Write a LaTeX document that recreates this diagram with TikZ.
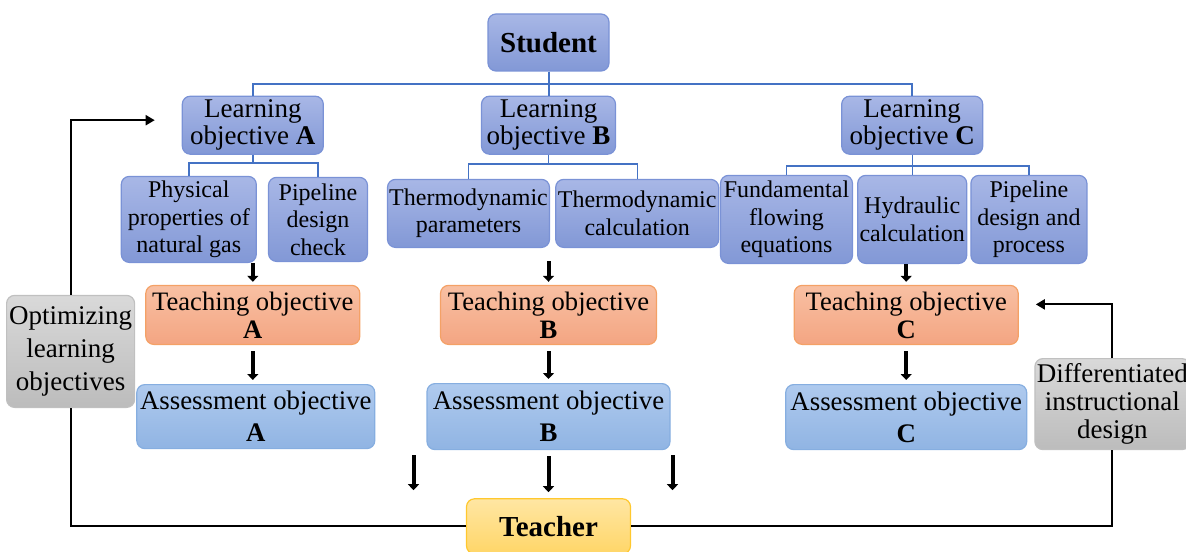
\documentclass[tikz,border=0pt]{standalone}
\usepackage{fontspec}
\setmainfont{Liberation Serif}
\usetikzlibrary{arrows.meta, positioning, shadings}
\definecolor{blueTop}{RGB}{168,183,230}
\definecolor{blueBottom}{RGB}{130,152,214}
\definecolor{blueLine}{RGB}{122,146,214}
\definecolor{orangeTop}{RGB}{248,192,163}
\definecolor{orangeBottom}{RGB}{244,165,130}
\definecolor{orangeLine}{RGB}{244,161,102}
\definecolor{skyTop}{RGB}{175,202,238}
\definecolor{skyBottom}{RGB}{144,180,227}
\definecolor{skyLine}{RGB}{134,174,224}
\definecolor{yellowTop}{RGB}{255,230,163}
\definecolor{yellowBottom}{RGB}{255,214,104}
\definecolor{yellowLine}{RGB}{255,200,46}
\definecolor{grayTop}{RGB}{217,217,217}
\definecolor{grayBottom}{RGB}{188,188,188}
\definecolor{grayLine}{RGB}{192,192,192}
\definecolor{treeBlue}{RGB}{68,114,196}

\begin{document}
\begin{tikzpicture}
	[
	node distance=12pt,
        box/.style={
            rectangle,
            rounded corners=4pt,
            line width=0.6pt,
            align=center,
            inner xsep=0.5pt,
            inner ysep=1pt
        },
        objective/.style={
            box,
            draw=blueLine,
            top color=blueTop,
            bottom color=blueBottom,
            minimum width=70.5pt,
            minimum height=29pt,
            font=\fontsize{13.5}{13.5}\selectfont
        },
        topic/.style={
            box,
            draw=blueLine,
            top color=blueTop,
            bottom color=blueBottom,
            minimum height=44pt,
            font=\fontsize{12}{13.7}\selectfont
        },
        teaching/.style={
            box,
            draw=orangeLine,
            top color=orangeTop,
            bottom color=orangeBottom,
            minimum width=108pt,
            minimum height=29.5pt,
            font=\fontsize{13.3}{14}\selectfont
        },
        assessment/.style={
            box,
            draw=skyLine,
            top color=skyTop,
            bottom color=skyBottom,
            minimum width=120.5pt,
            minimum height=32.5pt,
            font=\fontsize{13.4}{16}\selectfont
        },
        actor/.style={
            box,
            minimum height=28.5pt,
            font=\fontsize{14.5}{14.5}\selectfont\bfseries
        },
        adjust/.style={
            box,
            draw=grayLine,
            top color=grayTop,
            bottom color=grayBottom,
            font=\fontsize{13.5}{14}\selectfont
        },
        treeLine/.style={
            draw=treeBlue,
            line width=1pt
        },
        branchLine/.style={
            draw=treeBlue,
            line width=0.7pt
        },
        flowArrow/.style={
            -{Triangle[width=5.5pt,length=3pt]},
            line width=2pt
        },
        loopLine/.style={
            line width=1pt
        },
        loopArrow/.style={
            loopLine,
            -{Triangle[width=5pt,length=4.5pt]}
        }
    ]
    \useasboundingbox (0,0) rectangle (593pt,-275.5pt);

    \node(student) [actor, draw=blueLine, top color=blueTop, bottom color=blueBottom, minimum width=60.5pt] at (274.25pt,-21.25pt) {Student};

    \node(learnB) [objective, minimum width=67pt, below=12pt of student] {Learning\\objective \textbf{B}};
    \node(learnA) [objective, left=78.5pt of learnB] {Learning\\objective \textbf{A}};
    \node(learnC) [objective, right=112.5pt of learnB] {Learning\\objective \textbf{C}};

    \node(physical) [topic, minimum width=67.5pt, minimum height=43pt, below=10.5pt of learnA, xshift=-32pt] {Physical\\properties of\\natural gas};
    \node(designCheck) [topic, minimum width=49.5pt, minimum height=42pt, right=5.5pt of physical] {Pipeline\\design\\check};

    \node(thermoParam) [topic, minimum width=81pt, minimum height=34pt, below=12pt of learnB, xshift=-40pt] {Thermodynamic\\parameters};
    \node(thermoCalc) [topic, minimum width=81.5pt, minimum height=34pt, right=2.5pt of thermoParam] {Thermodynamic\\calculation};

    \node(hydraulic) [topic, minimum width=54.5pt, below=10pt of learnC] {Hydraulic\\calculation};
    \node(flowing) [topic, minimum width=66pt, left=2pt of hydraulic] {Fundamental\\flowing\\equations};
    \node(pipeProcess) [topic, minimum width=58pt, right=1.5pt of hydraulic] {Pipeline\\design and\\process};

    \node(teachA) [teaching, minimum width=107pt, below=65pt of learnA] {Teaching objective\\\textbf{A}};
    \node(teachB) [teaching, below=65pt of learnB] {Teaching objective\\\textbf{B}};
    \node(teachC) [teaching, minimum width=112pt, below=65pt of learnC, xshift=-3pt] {Teaching objective\\\textbf{C}};

    \node(assessA) [assessment, minimum width=119pt, minimum height=32pt, below=19.5pt of teachA, xshift=1.5pt] {Assessment objective\\\textbf{A}};
    \node(assessB) [assessment, minimum width=121.5pt, minimum height=33pt, below=19pt of teachB] {Assessment objective\\\textbf{B}};
    \node(assessC) [assessment, below=19.5pt of teachC] {Assessment objective\\\textbf{C}};

    \node(teacher) [actor, draw=yellowLine, top color=yellowTop, bottom color=yellowBottom, minimum width=82pt, minimum height=27.5pt, below=24pt of assessB] {Teacher};

    \node(optimize) [adjust, minimum width=64pt, minimum height=56pt, left=5pt of teachA, yshift=-18.25pt, font=\fontsize{13.5}{16.5}\selectfont] {Optimizing\\learning\\objectives};
    \node(differentiate) [adjust, minimum width=77.5pt, minimum height=45.5pt, right=3.5pt of assessC, yshift=6.5pt] {Differentiated\\instructional\\design};

    \draw[treeLine] (student.south) -- (learnB.north);
    \draw[treeLine] (student.south) -- ++(0,-6pt) -| (learnA.north);
    \draw[treeLine] (student.south) -- ++(0,-6pt) -| (learnC.north);

    \draw[branchLine] (learnA.south) -- ++(0,-4pt) -| (physical.north);
    \draw[branchLine] (learnA.south) -- ++(0,-4pt) -| (designCheck.north);
    \draw[branchLine] (learnB.south) -- ++(0,-4.5pt) -| (thermoParam.north);
    \draw[branchLine] (learnB.south) -- ++(0,-4.5pt) -| (thermoCalc.north);
    \draw[branchLine] (learnC.south) -- ++(0,-5.5pt) -| (flowing.north);
    \draw[branchLine] (learnC.south) -- (hydraulic.north);
    \draw[branchLine] (learnC.south) -- ++(0,-5.5pt) -| (pipeProcess.north);

    \draw[flowArrow, shorten >=1.5pt] (teachA.north |- physical.south) -- (teachA.north);
    \draw[flowArrow, shorten <=6.5pt, shorten >=1.5pt] (teachB.north |- thermoParam.south) -- (teachB.north);
    \draw[flowArrow, shorten >=1.5pt] (teachC.north |- hydraulic.south) -- (teachC.north);

    \draw[flowArrow, shorten <=3pt, shorten >=2pt] (teachA.south) -- (teachA.south |- assessA.north);
    \draw[flowArrow, shorten <=3pt, shorten >=2pt] (teachB.south) -- (assessB.north);
    \draw[flowArrow, shorten <=3pt, shorten >=2pt] (teachC.south) -- (assessC.north);

    \coordinate (dropLeft) at ([xshift=-67.5pt]teacher.north);
    \coordinate (dropRight) at ([xshift=62pt]teacher.north);
    \draw[flowArrow, shorten <=3pt, shorten >=3pt] (assessB.south) -- (teacher.north);
    \draw[flowArrow, shorten <=2.5pt, shorten >=4pt] (dropLeft |- assessB.south) -- (dropLeft);
    \draw[flowArrow, shorten <=2.5pt, shorten >=4pt] (dropRight |- assessB.south) -- (dropRight);

    \coordinate (backA) at ([xshift=-13.5pt, yshift=2.5pt]learnA.west);
    \coordinate (backC) at ([xshift=8.5pt, yshift=5.25pt]teachC.east);
    \draw[loopLine] (teacher.west) -| (optimize.south);
    \draw[loopArrow] (optimize.north) |- (backA);
    \draw[loopLine] (teacher.east) -| (differentiate.south);
    \draw[loopArrow] (differentiate.north) |- (backC);
\end{tikzpicture}
\end{document}
